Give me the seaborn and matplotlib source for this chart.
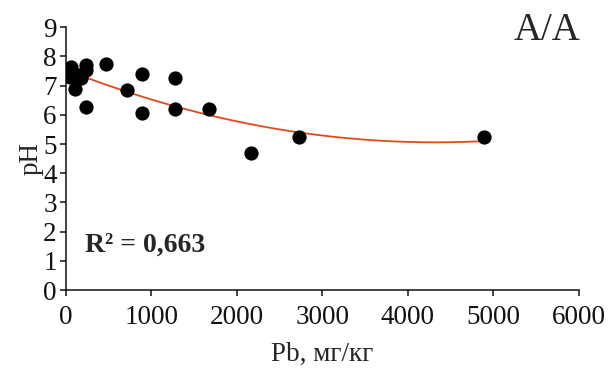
import numpy as np
import pandas as pd
import matplotlib
matplotlib.use("Agg")
import matplotlib.pyplot as plt
import seaborn as sns

# Pb content (mg/kg) and soil pH
pb = [20, 60, 50, 105, 180, 150, 240, 240, 240, 465, 720, 887, 887,
      1278, 1278, 1680, 2165, 2732, 4892]
ph = [7.45, 7.65, 7.30, 6.88, 7.25, 7.38, 7.72, 7.53, 6.28, 7.73, 6.85,
      7.39, 6.08, 7.28, 6.19, 6.19, 4.70, 5.23, 5.25]
x_ticks = [0, 1000, 2000, 3000, 4000, 5000, 6000]
y_ticks = [0, 1, 2, 3, 4, 5, 6, 7, 8, 9]
r2_text = "R² = 0,663"
panel_label = "A/A"

df = pd.DataFrame({"Pb": pb, "pH": ph})

sns.set_style("ticks")
plt.rcParams["font.family"] = ["Liberation Serif", "DejaVu Serif"]

fig = plt.figure(figsize=(6.09, 3.69), dpi=100)
ax = fig.add_axes([0.108, 0.214, 0.842, 0.712])

# quadratic trend line (behind the points)
sns.regplot(data=df, x="Pb", y="pH", order=2, ci=None, scatter=False,
            line_kws={"color": "#E24A1C", "lw": 1.3, "zorder": 2}, ax=ax)
sns.scatterplot(data=df, x="Pb", y="pH", color="black", s=105,
                edgecolor="black", linewidth=0, zorder=3, ax=ax)

ax.set_xlim(0, 6000)
ax.set_ylim(0, 9)
ax.set_xticks(x_ticks)
ax.set_yticks(y_ticks)
ax.tick_params(axis="both", labelsize=19.5, width=1.1, length=4.5,
               direction="out", colors="#111111")
ax.tick_params(axis="x", pad=6)
ax.tick_params(axis="y", pad=2)
for side in ["left", "bottom"]:
    ax.spines[side].set_linewidth(1.1)
    ax.spines[side].set_color("#111111")
sns.despine(ax=ax)

ax.set_xlabel("Pb, мг/кг", fontsize=19.5, labelpad=9)
ax.set_ylabel("pH", fontsize=19.5, labelpad=0)

ax.text(220, 1.55, r2_text, fontsize=20, fontweight="bold",
        va="center", ha="left")
fig.text(0.953, 0.968, panel_label, fontsize=28, ha="right", va="top")

fig.savefig("out.png", dpi=100)
